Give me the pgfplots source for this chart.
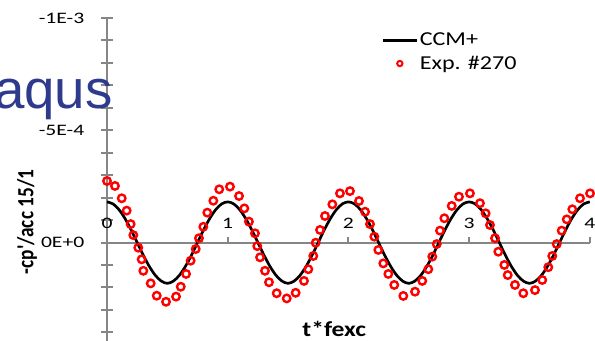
\documentclass[border=0pt]{standalone}
\usepackage{fontspec}
\setmainfont{Carlito}
\newfontfamily\tickfont[FakeStretch=1.35]{Carlito}
\newfontfamily\legfont[FakeStretch=1.22]{Carlito}
\newfontfamily\xlabfont[FakeStretch=1.2]{Carlito}
\newfontfamily\aqfont{Liberation Sans}
\usepackage{graphicx}
\usepackage{pgfplots}
\pgfplotsset{compat=1.18}
\definecolor{axgray}{HTML}{868686}
\definecolor{aqblue}{HTML}{2E3B8C}
\pgfplotsset{
 lineleg/.style={legend image code/.code={\draw[##1] (0pt,0pt) -- (25pt,0pt);}},
 markleg/.style={legend image code/.code={\draw[##1] plot coordinates {(12.5pt,0pt)};}},
}
\begin{document}
\begin{tikzpicture}
\begin{axis}[
 x=90.525pt, y=168.375pt, y dir=reverse,
 xmin=0, xmax=4, ymin=-1, ymax=0.5,
 axis lines=middle,
 axis line style={draw=axgray, line width=1.5pt, -},
 clip=false,
 xtick={0,1,2,3,4}, xticklabels={0,1,2,3,4},
 ytick={-1,-0.5,0}, yticklabels={-1E-3,-5E-4,0E+0},
 minor ytick={-1,-0.9,-0.8,-0.7,-0.6,-0.5,-0.4,-0.3,-0.2,-0.1,0,0.1,0.2,0.3,0.4,0.5},
 tick align=center, major tick length=4.5pt, minor tick length=9pt,
 tick style={draw=axgray, line width=1.5pt},
 major y tick style={draw=none},
 major x tick style={yshift=2.25pt},
 hide obscured x ticks=false, hide obscured y ticks=false,
 tick label style={font=\tickfont\fontsize{12}{14}\selectfont},
 xticklabel style={anchor=base, yshift=13.1pt},
 yticklabel style={anchor=east, xshift=-11.3pt},
 xlabel={t*fexc},
 xlabel style={at={(axis description cs:0.4706,0.0536)}, anchor=base, font=\xlabfont\bfseries\fontsize{16}{19}\selectfont},
 ylabel={\scalebox{1}[1.2]{-cp\textquotesingle/acc 15/1}},
 ylabel style={at={(axis description cs:-0.1656,0.394)}, anchor=center, rotate=90, font=\bfseries\fontsize{14.5}{17}\selectfont},
 legend style={draw=none, fill=none, at={(axis description cs:0.5687,0.962)}, anchor=north west, inner sep=0pt, font=\legfont\fontsize{14.8}{17}\selectfont, nodes={inner sep=1.5pt}, row sep=3pt},
 legend cell align=left,
]
\addlegendimage{lineleg, black, line width=2pt}
\addlegendentry{CCM+}
\addlegendimage{only marks, red, mark=o, mark size=2pt, line width=1.5pt, markleg}
\addlegendentry{Exp. \#270}

\addplot[black, line width=2pt, smooth, forget plot] coordinates {
(0,-0.181)(0.05,-0.172)(0.1,-0.146)(0.15,-0.106)(0.2,-0.056)(0.25,0)(0.3,0.056)(0.35,0.106)(0.4,0.146)(0.45,0.172)
(0.5,0.182)(0.55,0.172)(0.6,0.146)(0.65,0.106)(0.7,0.056)(0.75,0)(0.8,-0.056)(0.85,-0.106)(0.9,-0.146)(0.95,-0.172)
(1,-0.181)(1.05,-0.172)(1.1,-0.146)(1.15,-0.106)(1.2,-0.056)(1.25,0)(1.3,0.056)(1.35,0.106)(1.4,0.146)(1.45,0.172)
(1.5,0.182)(1.55,0.172)(1.6,0.146)(1.65,0.106)(1.7,0.056)(1.75,0)(1.8,-0.056)(1.85,-0.106)(1.9,-0.146)(1.95,-0.172)
(2,-0.181)(2.05,-0.172)(2.1,-0.146)(2.15,-0.106)(2.2,-0.056)(2.25,0)(2.3,0.056)(2.35,0.106)(2.4,0.146)(2.45,0.172)
(2.5,0.182)(2.55,0.172)(2.6,0.146)(2.65,0.106)(2.7,0.056)(2.75,0)(2.8,-0.056)(2.85,-0.106)(2.9,-0.146)(2.95,-0.172)
(3,-0.181)(3.05,-0.172)(3.1,-0.146)(3.15,-0.106)(3.2,-0.056)(3.25,0)(3.3,0.056)(3.35,0.106)(3.4,0.146)(3.45,0.172)
(3.5,0.182)(3.55,0.172)(3.6,0.146)(3.65,0.106)(3.7,0.056)(3.75,0)(3.8,-0.056)(3.85,-0.106)(3.9,-0.146)(3.95,-0.172)
(4,-0.181)
};
\addplot[only marks, mark=o, red, mark size=2.8pt, line width=1.8pt, forget plot] coordinates {
(0.000,-0.274)(0.066,-0.252)(0.122,-0.197)(0.163,-0.142)(0.196,-0.082)(0.218,-0.033)(0.259,0.023)(0.287,0.075)
(0.301,0.126)(0.362,0.182)(0.412,0.237)(0.489,0.264)(0.572,0.241)(0.611,0.197)(0.655,0.140)(0.693,0.081)
(0.735,0.029)(0.762,-0.019)(0.798,-0.070)(0.831,-0.133)(0.881,-0.186)(0.930,-0.237)(1.019,-0.249)
(1.094,-0.207)(1.138,-0.152)(1.176,-0.093)(1.226,-0.041)(1.245,0.016)(1.268,0.066)(1.309,0.126)(1.342,0.177)
(1.406,0.226)(1.489,0.249)(1.563,0.224)(1.632,0.171)(1.668,0.119)(1.709,0.060)(1.729,0.001)(1.765,-0.056)
(1.806,-0.118)(1.867,-0.170)(1.930,-0.219)(2.013,-0.229)
(2.088,-0.185)(2.138,-0.137)(2.179,-0.082)(2.215,-0.026)(2.248,0.033)(2.289,0.093)(2.331,0.140)(2.380,0.189)
(2.455,0.238)(2.552,0.219)(2.612,0.171)(2.662,0.119)(2.695,0.063)(2.732,0.007)(2.759,-0.053)(2.795,-0.108)
(2.856,-0.163)(2.916,-0.204)(3.007,-0.219)
(3.090,-0.175)(3.137,-0.130)(3.173,-0.078)(3.215,-0.019)(3.242,0.041)(3.292,0.100)(3.320,0.145)(3.380,0.189)
(3.449,0.226)(3.546,0.212)(3.606,0.167)(3.656,0.110)(3.689,0.060)(3.726,0.007)(3.767,-0.053)(3.809,-0.103)
(3.855,-0.148)(3.919,-0.197)(4.002,-0.219)
};
\node[anchor=base east, inner sep=0pt, text=aqblue, font=\aqfont\fontsize{41}{45}\selectfont] at (axis cs:0.0497,-0.599) {aqus};
\coordinate (bl) at (axis cs:-0.8865,0.4343);
\coordinate (tr) at (axis cs:4.0431,-1.0802);
\end{axis}
\pgfresetboundingbox
\path[use as bounding box] (bl) rectangle (tr);
\end{tikzpicture}
\end{document}
